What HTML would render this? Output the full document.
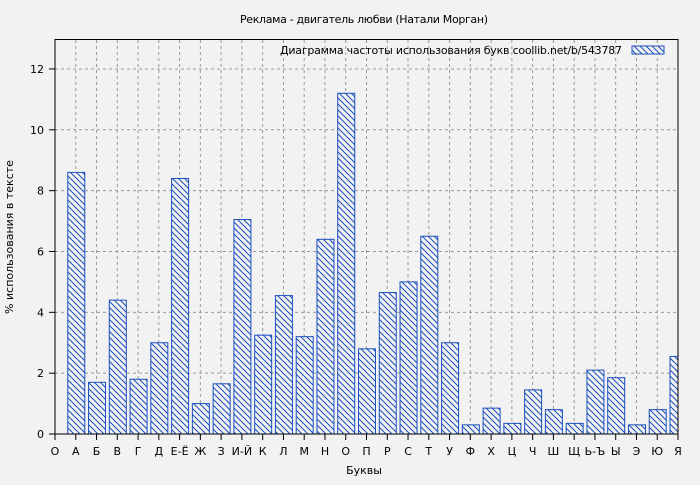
<!DOCTYPE html><html><head><meta charset="utf-8"><style>body{margin:0;background:#f2f2f2}text{font-family:"DejaVu Sans","Liberation Sans",sans-serif;font-size:11px;fill:#000}</style></head><body>
<svg width="700" height="480" xmlns="http://www.w3.org/2000/svg">
<defs><pattern id="h" patternUnits="userSpaceOnUse" width="6" height="6"><rect width="6" height="6" fill="#f2f2f2"/><path d="M0,0L6,6M-3,3L3,9M3,-3L9,3" stroke="#1a4fbf" stroke-width="1"/></pattern><clipPath id="c"><rect x="55" y="39" width="623" height="395"/></clipPath></defs>
<rect width="700" height="480" fill="#f2f2f2"/>
<text x="364" y="23" text-anchor="middle" textLength="248">Реклама - двигатель любви (Натали Морган)</text>
<g id="g" stroke="#999" stroke-dasharray="3,3" stroke-width="1"></g>
<g id="b" clip-path="url(#c)"></g>
<rect x="55" y="39.5" width="623" height="394.5" fill="none" stroke="#000"/>
<g id="t"></g>
<text x="280" y="54" textLength="342">Диаграмма частоты использования букв  coollib.net/b/543787</text>
<rect x="632" y="46" width="32" height="8" fill="url(#h)" stroke="#1a4fbf"/>
<text x="364" y="474" text-anchor="middle">Буквы</text>
<text transform="translate(13,237) rotate(-90)" text-anchor="middle">% использования в тексте</text>
</svg>
<script>
var L="О А Б В Г Д Е-Ё Ж З И-Й К Л М Н О П Р С Т У Ф Х Ц Ч Ш Щ Ь-Ъ Ы Э Ю Я".split(" ");
var V=[8.6,1.7,4.4,1.8,3.0,8.4,1.0,1.65,7.05,3.25,4.55,3.2,6.4,11.2,2.8,4.65,5.0,6.5,3.0,0.3,0.85,0.35,1.45,0.8,0.35,2.1,1.85,0.3,0.8,2.55];
var ns="http://www.w3.org/2000/svg",g=document.getElementById("g"),b=document.getElementById("b"),t=document.getElementById("t");
function el(p,n,a,tx){var e=document.createElementNS(ns,n);for(var k in a)e.setAttribute(k,a[k]);if(tx!==undefined)e.textContent=String(tx);p.appendChild(e);return e;}
var x0=55,dx=623/30,y0=434,dy=30.42;
for(var i=0;i<=30;i++){var x=x0+i*dx;if(i>0&&i<30)el(g,"line",{x1:x,x2:x,y1:40,y2:434});el(t,"line",{x1:x,x2:x,y1:434,y2:440,stroke:"#000"});el(t,"text",{x:x,y:455,"text-anchor":"middle"},L[i]);}
for(var v=0;v<=12;v+=2){var y=y0-v*dy;if(v>0)el(g,"line",{x1:55,x2:678,y1:y,y2:y});el(t,"line",{x1:49,x2:55,y1:y,y2:y,stroke:"#000"});el(t,"text",{x:44,y:y+4,"text-anchor":"end"},v);}
V.forEach(function(v,i){var x=x0+(i+1)*dx;el(b,"rect",{x:x-8,y:y0-v*dy,width:17,height:v*dy,fill:"url(#h)",stroke:"#1a4fbf","stroke-width":1});});
</script>
</body></html>
